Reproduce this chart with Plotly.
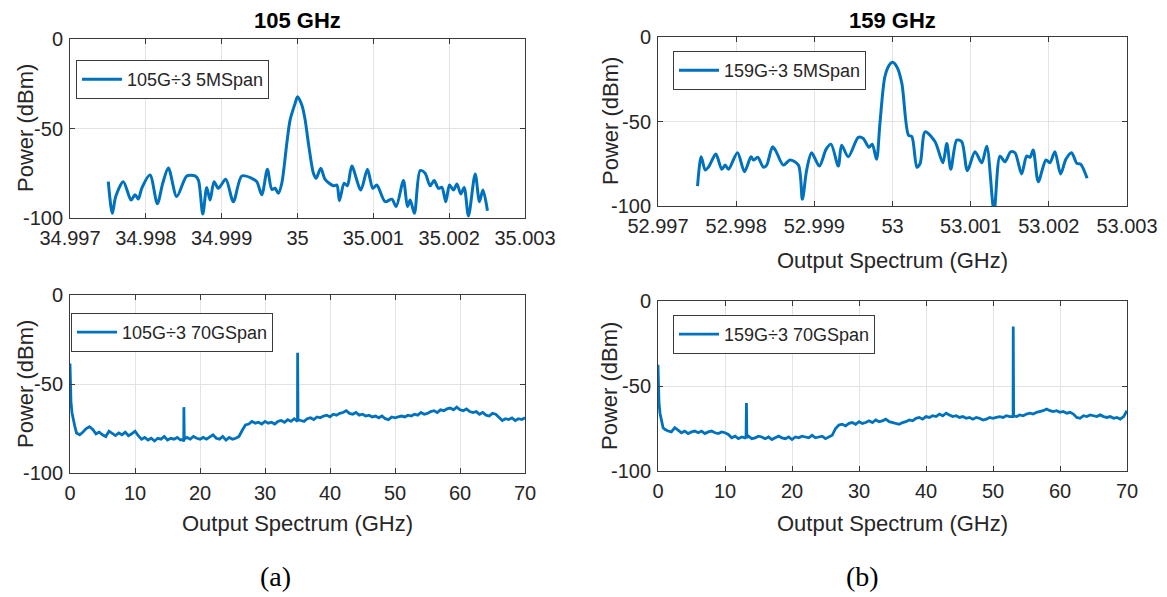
import numpy as np
import plotly.graph_objects as go
from plotly.subplots import make_subplots

# (a) 105 GHz / 3 -> 35 GHz, 5 MHz span (offset from 35 GHz in MHz)
a_zoom_offset = [-2.495, -2.442, -2.397, -2.297, -2.195, -2.142, -2.099, -2.054, -1.945, -1.848,
                 -1.777, -1.703, -1.592, -1.46, -1.351, -1.307, -1.249, -1.197, -1.153, -1.1,
                 -1.044, -0.946, -0.846, -0.735, -0.603, -0.537, -0.471, -0.397, -0.339, -0.296,
                 -0.252, -0.207, -0.141, -0.098, -0.032, 0.0, 0.057, 0.1, 0.144, 0.21,
                 0.245, 0.307, 0.364, 0.474, 0.519, 0.553, 0.615, 0.658, 0.716, 0.835,
                 0.922, 0.993, 1.046, 1.156, 1.244, 1.301, 1.397, 1.45, 1.486, 1.542,
                 1.617, 1.683, 1.749, 1.802, 1.859, 1.904, 1.956, 2.004, 2.057, 2.102,
                 2.154, 2.198, 2.254, 2.343, 2.4, 2.445, 2.505]
a_zoom_power = [-79.7, -97.4, -88.0, -79.7, -90.0, -87.0, -89.4, -83.4, -76.0, -92.0,
                -80.6, -72.0, -88.0, -76.5, -76.5, -78.8, -97.8, -82.9, -90.0, -79.7,
                -83.4, -78.4, -90.9, -76.5, -77.8, -79.7, -87.0, -72.8, -84.0, -83.4,
                -86.2, -80.6, -58.3, -45.3, -36.0, -32.2, -36.9, -45.0, -58.3, -75.0,
                -77.8, -72.2, -78.4, -82.0, -81.6, -90.3, -80.6, -82.0, -71.0, -84.4,
                -72.8, -83.4, -81.6, -90.9, -89.5, -93.6, -79.1, -93.6, -90.0, -97.4,
                -73.5, -75.0, -82.0, -79.1, -83.4, -82.9, -90.9, -81.6, -84.4, -81.0,
                -86.6, -82.9, -98.9, -75.4, -90.9, -84.4, -95.9]

# (b) 159 GHz / 3 -> 53 GHz, 5 MHz span (offset from 53 GHz in MHz)
b_zoom_offset = [-2.494, -2.447, -2.396, -2.351, -2.26, -2.184, -2.14, -2.098, -1.983, -1.894,
                 -1.81, -1.779, -1.724, -1.651, -1.609, -1.536, -1.494, -1.396, -1.31, -1.204,
                 -1.153, -1.098, -1.035, -0.936, -0.85, -0.787, -0.693, -0.651, -0.566, -0.438,
                 -0.374, -0.301, -0.259, -0.204, -0.161, -0.098, -0.04, 0.0, 0.06, 0.12,
                 0.204, 0.248, 0.312, 0.354, 0.418, 0.545, 0.644, 0.695, 0.746, 0.822,
                 0.886, 0.958, 1.056, 1.142, 1.206, 1.299, 1.375, 1.439, 1.512, 1.567,
                 1.652, 1.716, 1.759, 1.8, 1.865, 1.963, 2.014, 2.078, 2.15, 2.218,
                 2.291, 2.359, 2.406, 2.49]
b_zoom_power = [-88.2, -70.9, -78.7, -76.8, -69.3, -78.3, -75.8, -78.3, -68.5, -79.7,
                -70.9, -72.8, -71.2, -77.1, -75.8, -65.0, -67.3, -75.8, -72.8, -75.8,
                -96.0, -78.7, -68.5, -76.4, -66.5, -63.4, -76.4, -64.0, -70.9, -59.4,
                -60.0, -65.3, -63.4, -72.4, -51.2, -23.6, -16.5, -15.0, -18.0, -27.5,
                -58.0, -59.0, -77.1, -74.8, -56.1, -62.0, -74.4, -63.0, -78.3, -61.0,
                -62.0, -79.1, -67.9, -74.4, -64.6, -103.0, -70.5, -73.8, -67.9, -68.5,
                -81.1, -70.5, -71.2, -66.9, -85.6, -72.8, -74.4, -67.9, -81.1, -72.4,
                -68.5, -74.8, -75.2, -83.6]

# 70 GHz span traces: sample grid 1..70 GHz every 0.5 GHz, plus DC roll-off and spikes
wide_freq = np.arange(1.0, 70.01, 0.5)
a_wide_power = [-77.5, -78.5, -77.0, -75.0, -74.0, -75.5, -78.0, -77.0, -78.5, -79.5,
                -76.5, -78.0, -79.0, -77.5, -78.5, -77.0, -79.0, -78.0, -76.5, -79.0,
                -81.0, -80.0, -81.5, -80.5, -82.0, -80.5, -81.0, -79.5, -81.5, -80.5,
                -81.0, -80.0, -81.5, -82.5, -80.0, -81.0, -79.5, -80.5, -81.0, -80.0,
                -81.0, -79.5, -78.5, -80.5, -81.0, -79.5, -81.5, -80.0, -81.0, -80.5,
                -79.5, -76.0, -73.0, -72.5, -71.0, -72.0, -71.5, -72.5, -71.0, -72.0,
                -71.5, -72.5, -71.0, -70.5, -71.5, -70.0, -71.0, -69.5, -71.0, -70.5,
                -71.0, -69.5, -69.0, -70.0, -68.5, -69.0, -68.0, -67.5, -68.5, -67.0,
                -67.5, -66.5, -66.0, -65.0, -66.5, -67.0, -66.0, -67.5, -67.0, -68.0,
                -67.5, -68.5, -68.0, -69.0, -68.0, -69.5, -70.0, -68.5, -69.0, -68.5,
                -68.0, -68.5, -67.5, -68.0, -67.0, -67.5, -66.0, -67.0, -66.5, -65.5,
                -65.0, -66.0, -64.5, -65.0, -64.0, -63.5, -64.5, -63.0, -64.5, -65.0,
                -64.0, -65.5, -66.0, -65.5, -67.0, -66.0, -67.5, -68.0, -66.5, -67.0,
                -68.5, -70.5, -69.5, -70.0, -69.0, -70.5, -69.5, -70.0, -69.0]
b_wide_power = [-75.5, -76.5, -77.0, -74.5, -76.0, -77.5, -76.5, -78.0, -77.0, -76.5,
                -77.5, -76.5, -78.0, -77.0, -76.5, -77.5, -78.0, -77.0, -77.5, -78.5,
                -80.5, -79.5, -81.0, -80.0, -80.5, -79.5, -81.0, -80.5, -79.5, -80.0,
                -81.0, -80.0, -81.5, -80.5, -79.5, -80.5, -81.0, -80.0, -81.5, -80.0,
                -80.5, -79.5, -80.0, -80.5, -79.0, -80.5, -80.0, -79.5, -81.0, -80.0,
                -79.0, -75.0, -73.0, -72.5, -73.5, -72.0, -71.5, -72.5, -71.0, -72.0,
                -71.5, -70.5, -71.5, -70.0, -71.0, -70.5, -69.5, -71.0, -71.5, -72.0,
                -72.5, -71.5, -71.0, -70.0, -70.5, -69.0, -68.5, -69.5, -68.0, -68.5,
                -67.5, -68.0, -66.5, -67.5, -66.0, -67.0, -68.0, -67.5, -68.5, -68.0,
                -69.0, -68.5, -69.5, -68.5, -69.0, -70.0, -69.5, -68.5, -69.0, -68.5,
                -68.0, -68.5, -67.5, -68.0, -67.5, -68.0, -67.0, -67.5, -66.5, -66.0,
                -66.5, -65.5, -65.0, -64.5, -63.5, -64.5, -65.0, -64.5, -65.5, -65.0,
                -66.0, -65.5, -66.5, -68.5, -69.0, -67.5, -68.0, -67.0, -67.5, -68.0,
                -67.0, -68.0, -68.5, -68.0, -69.0, -68.5, -69.5, -68.0, -64.5]

dc_freq = [0.0, 0.05, 0.15, 0.3, 0.5, 0.75]
a_dc_power = [-38.5, -50.0, -60.0, -66.0, -70.0, -74.0]
b_dc_power = [-37.5, -50.0, -60.0, -66.0, -71.0, -74.5]

a_spike_freq = [17.46, 17.52, 17.58, 34.96, 35.02, 35.08]
a_spike_power = [-81.0, -63.0, -81.0, -70.5, -32.5, -70.0]
b_spike_freq = [13.14, 13.2, 13.26, 52.96, 53.02, 53.08]
b_spike_power = [-80.0, -60.0, -80.5, -68.0, -15.0, -67.5]

zoom_ticks = [-3, -2, -1, 0, 1, 2, 3]
a_zoom_ticktext = ['34.997', '34.998', '34.999', '35', '35.001', '35.002', '35.003']
b_zoom_ticktext = ['52.997', '52.998', '52.999', '53', '53.001', '53.002', '53.003']
power_ticks = [-100, -50, 0]
power_ticktext = ['-100', '-50', '0']


def merge(f1, p1, f2, p2, f3, p3):
    f = np.concatenate([f1, f2, f3])
    p = np.concatenate([p1, p2, p3])
    order = np.argsort(f, kind='stable')
    return f[order], p[order]


a_wf, a_wp = merge(dc_freq, a_dc_power, wide_freq, a_wide_power, a_spike_freq, a_spike_power)
b_wf, b_wp = merge(dc_freq, b_dc_power, wide_freq, b_wide_power, b_spike_freq, b_spike_power)

BLUE = '#0072BD'
FONT = 'Liberation Sans, Arial, sans-serif'
# the page body has an 8px margin, so the figure is drawn 8px in from the window corner
OFF = 8
W, H = 1167 - OFF, 597 - OFF

fig = make_subplots(rows=2, cols=2)

fig.add_trace(go.Scatter(x=np.array(a_zoom_offset), y=a_zoom_power, mode='lines',
                         line=dict(color=BLUE, width=3, shape='spline', smoothing=0.8),
                         name='105G÷3 5MSpan', legend='legend'), row=1, col=1)
fig.add_trace(go.Scatter(x=np.array(b_zoom_offset), y=b_zoom_power, mode='lines',
                         line=dict(color=BLUE, width=3, shape='spline', smoothing=0.8),
                         name='159G÷3 5MSpan', legend='legend2'), row=1, col=2)
fig.add_trace(go.Scatter(x=a_wf, y=a_wp, mode='lines', line=dict(color=BLUE, width=2.8),
                         name='105G÷3 70GSpan', legend='legend3'), row=2, col=1)
fig.add_trace(go.Scatter(x=b_wf, y=b_wp, mode='lines', line=dict(color=BLUE, width=2.8),
                         name='159G÷3 70GSpan', legend='legend4'), row=2, col=2)


def px(x):
    return (x - OFF) / W


def py(y):
    return 1 - (y - OFF) / H


# plot areas in window pixels (left, right, top, bottom)
boxes = {
    1: (70, 525, 39, 218),
    2: (658, 1127, 37, 206),
    3: (70, 525, 295, 473),
    4: (658, 1127, 301, 471),
}

axis_style = dict(showline=True, linecolor='#3a3a3a', linewidth=1, mirror='ticks',
                  ticks='inside', ticklen=5, tickcolor='#3a3a3a', automargin=False,
                  showgrid=True, gridcolor='#e3e3e3', gridwidth=1, zeroline=False,
                  tickfont=dict(family=FONT, size=20, color='#262626'))

for i, (l, r, t, b) in boxes.items():
    sfx = '' if i == 1 else str(i)
    fig.layout['xaxis' + sfx].update(domain=[px(l), px(r)], ticklabelstandoff=2, **axis_style)
    fig.layout['yaxis' + sfx].update(domain=[py(b), py(t)], range=[-100, 0],
                                     tickvals=power_ticks, ticktext=power_ticktext,
                                     ticklabelstandoff=2, **axis_style)

fig.update_xaxes(range=[-3, 3], tickvals=zoom_ticks, ticktext=a_zoom_ticktext, row=1, col=1)
fig.update_xaxes(range=[-3, 3], tickvals=zoom_ticks, ticktext=b_zoom_ticktext, row=1, col=2)
fig.update_xaxes(range=[0, 70], tickvals=list(range(0, 71, 10)), row=2, col=1)
fig.update_xaxes(range=[0, 70], tickvals=list(range(0, 71, 10)), row=2, col=2)

legend_style = dict(xanchor='left', yanchor='top', bgcolor='white', bordercolor='#3a3a3a',
                    borderwidth=1, font=dict(family=FONT, size=18, color='#262626'),
                    tracegroupgap=0, itemwidth=40)
fig.update_layout(
    legend=dict(x=px(76), y=py(60), **legend_style),
    legend2=dict(x=px(673), y=py(51), **legend_style),
    legend3=dict(x=px(71), y=py(313), **legend_style),
    legend4=dict(x=px(673), y=py(315), **legend_style),
)

SERIF = 'Liberation Serif, Times New Roman, serif'
notes = [
    dict(text='<b>105 GHz</b>', x=297, y=21, size=22, angle=0, fam=FONT, col='black'),
    dict(text='<b>159 GHz</b>', x=892, y=21, size=22, angle=0, fam=FONT, col='black'),
    dict(text='Power (dBm)', x=25, y=128, size=22, angle=-90, fam=FONT, col='#262626'),
    dict(text='Power (dBm)', x=610, y=121, size=22, angle=-90, fam=FONT, col='#262626'),
    dict(text='Power (dBm)', x=25, y=384, size=22, angle=-90, fam=FONT, col='#262626'),
    dict(text='Power (dBm)', x=610, y=386, size=22, angle=-90, fam=FONT, col='#262626'),
    dict(text='Output Spectrum (GHz)', x=892, y=260, size=22, angle=0, fam=FONT, col='#262626'),
    dict(text='Output Spectrum (GHz)', x=297, y=523, size=22, angle=0, fam=FONT, col='#262626'),
    dict(text='Output Spectrum (GHz)', x=892, y=523, size=22, angle=0, fam=FONT, col='#262626'),
    dict(text='(a)', x=275, y=576, size=28, angle=0, fam=SERIF, col='black'),
    dict(text='(b)', x=862, y=576, size=28, angle=0, fam=SERIF, col='black'),
]
for n in notes:
    fig.add_annotation(text=n['text'], x=px(n['x']), y=py(n['y']), xref='paper', yref='paper',
                       xanchor='center', yanchor='middle', showarrow=False, textangle=n['angle'],
                       font=dict(family=n['fam'], size=n['size'], color=n['col']))

fig.update_layout(width=W, height=H, margin=dict(l=0, r=0, t=0, b=0),
                  paper_bgcolor='white', plot_bgcolor='white', showlegend=True)

fig.write_html("out.html")
